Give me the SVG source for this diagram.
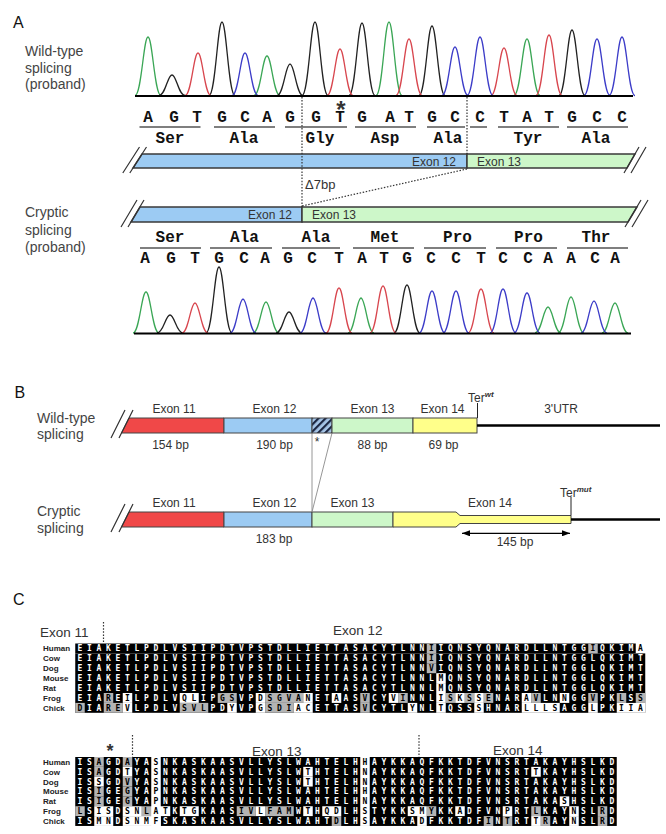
<svg xmlns="http://www.w3.org/2000/svg" width="666" height="834" viewBox="0 0 666 834">
<defs>
<style>
.t{font-family:"Liberation Sans",Arial,sans-serif;fill:#333}
.pl{font-size:16px;fill:#111}
.side{font-size:14px;fill:#444}
.ex{font-size:12px}
.seq{font-family:"Liberation Mono","Courier New",monospace;font-weight:bold;font-size:16px;fill:#111;text-anchor:middle}
.bar{stroke:#3a3a3a;stroke-width:1.5}
.bb{stroke:#444;stroke-width:1}
.blue{fill:#9ccbf3}
.green{fill:#cdf7c9}
.red{fill:#f04848}
.yel{fill:#ffff8a}
.dot{fill:none;stroke:#333;stroke-width:1.2;stroke-dasharray:1.5 1.6}
.ul{fill:none;stroke:#555;stroke-width:1.6}
.pk{fill:none;stroke-width:1.3;stroke-linejoin:round}
.sl{stroke:#333;stroke-width:1.2}
.k{fill:#000}
.g{fill:#b4b4b4}
.w{fill:#fff}
.aln{font-family:"DejaVu Sans Mono",monospace;font-weight:bold;font-size:8px;letter-spacing:4.684px}
.sp{font-family:"Liberation Sans",Arial,sans-serif;font-weight:bold;font-size:8px;fill:#222}
</style>
<pattern id="hatch" width="5" height="5" patternUnits="userSpaceOnUse" patternTransform="rotate(45)"><rect width="5" height="5" fill="#a8c8ea"/><rect width="2.2" height="5" fill="#1a2540"/></pattern>
<marker id="ah" viewBox="0 0 8 6" refX="8" refY="3" markerWidth="8" markerHeight="6" markerUnits="userSpaceOnUse" orient="auto-start-reverse"><path d="M0,0 L8,3 L0,6 Z" fill="#000"/></marker>
</defs>
<rect width="666" height="834" fill="#fff"/>

<!-- Panel A -->
<g id="panelA">
<text class="t pl" x="13" y="28.3">A</text>
<g id="label-wt-proband"><text class="t side" x="25" y="56">Wild-type</text><text class="t side" x="25" y="72.7">splicing</text><text class="t side" x="25" y="89.4">(proband)</text></g>
<g id="label-cr-proband"><text class="t side" x="25" y="217">Cryptic</text><text class="t side" x="25" y="234.5">splicing</text><text class="t side" x="25" y="252">(proband)</text></g>

<g id="chromatogram-wt">
<path class="pk" stroke="#3aa655" d="M135 95.5 C141.5 95.5 143.5 37 148 37 S154.5 95.5 161 95.5 M254 95.5 C260.5 95.5 262.5 56 267 56 S273.5 95.5 280 95.5 M376 95.5 C382.5 95.5 384.5 22 389 22 S395.5 95.5 402 95.5 M514 95.5 C520.5 95.5 522.5 39 527 39 S533.5 95.5 540 95.5"/>
<path class="pk" stroke="#222" d="M159 95.5 C165.5 95.5 167.5 75 172 75 S178.5 95.5 185 95.5 M209 95.5 C215.5 95.5 217.5 22 222 22 S228.5 95.5 235 95.5 M277 95.5 C283.5 95.5 285.5 64 290 64 S296.5 95.5 303 95.5 M302 95.5 C308.5 95.5 310.5 22 315 22 S321.5 95.5 328 95.5 M349 95.5 C355.5 95.5 357.5 23 362 23 S368.5 95.5 375 95.5 M419 95.5 C425.5 95.5 427.5 26 432 26 S438.5 95.5 445 95.5 M559 95.5 C565.5 95.5 567.5 30 572 30 S578.5 95.5 585 95.5"/>
<path class="pk" stroke="#d8464e" d="M185 95.5 C191.5 95.5 193.5 53 198 53 S204.5 95.5 211 95.5 M327 95.5 C333.5 95.5 335.5 49 340 49 S346.5 95.5 353 95.5 M396 95.5 C402.5 95.5 404.5 39 409 39 S415.5 95.5 422 95.5 M491 95.5 C497.5 95.5 499.5 48 504 48 S510.5 95.5 517 95.5 M536 95.5 C542.5 95.5 544.5 35 549 35 S555.5 95.5 562 95.5"/>
<path class="pk" stroke="#3c3cc8" d="M232 95.5 C238.5 95.5 240.5 53 245 53 S251.5 95.5 258 95.5 M442 95.5 C448.5 95.5 450.5 47 455 47 S461.5 95.5 468 95.5 M467 95.5 C473.5 95.5 475.5 37 480 37 S486.5 95.5 493 95.5 M584 95.5 C590.5 95.5 592.5 39 597 39 S603.5 95.5 610 95.5 M609 95.5 C615.5 95.5 617.5 37 622 37 S628.5 95.5 635 95.5"/>
<line x1="135" y1="96" x2="633" y2="96" stroke="#000" stroke-width="2"/>
</g>

<g id="sequence-wt">
<text class="t" x="341" y="117.5" font-size="24" font-weight="bold" fill="#111" text-anchor="middle">*</text>
<text class="seq" x="148 174 197 222 245 267 290 316 340 362 390 409 432 455 480 504 527 549 572 597 622" y="121.7">AGTGCAGGTGATGCCTATGCC</text>
<path class="ul" d="M139.5 127H200.5 M214 127H275 M285 127H347 M355 127H416 M427 127H465 M470 127H487 M498 127H559 M567 127H628"/>
<text class="seq" x="170" y="143">Ser</text>
<text class="seq" x="244" y="143">Ala</text>
<text class="seq" x="320" y="143">Gly</text>
<text class="seq" x="385" y="143">Asp</text>
<text class="seq" x="448" y="143">Ala</text>
<text class="seq" x="528" y="143">Tyr</text>
<text class="seq" x="596" y="143">Ala</text>
</g>

<g id="wt-exon12"><polygon class="bar blue" points="142,154 467,154 467,168 133,168"/><text class="t ex" x="456" y="165.5" text-anchor="end">Exon 12</text></g>
<g id="wt-exon13"><polygon class="bar green" points="467,154 635,154 627,168 467,168"/><text class="t ex" x="477" y="165.5">Exon 13</text></g>
<path class="sl" d="M146.5 147 L129.8 173 M139.5 147 L122.8 173 M639 147 L624 173 M646 147 L631 173"/>

<g id="cr-exon12"><polygon class="bar blue" points="140,207 302,207 302,222 131,222"/><text class="t ex" x="292" y="219" text-anchor="end">Exon 12</text></g>
<g id="cr-exon13"><polygon class="bar green" points="302,207 637,207 628,222 302,222"/><text class="t ex" x="312" y="219">Exon 13</text></g>
<path class="sl" d="M144 200 L128 227 M137 200 L121 227 M641 200 L625 227 M648 200 L632 227"/>

<g id="connectorsA">
<path class="dot" d="M302 97 V207 M467 97 V154 M467 169 L302 206"/>
<text class="t" x="305" y="189" font-size="13">Δ7bp</text>
</g>

<g id="sequence-cr">
<text class="seq" x="170" y="241.7">Ser</text>
<text class="seq" x="244.5" y="241.7">Ala</text>
<text class="seq" x="316" y="241.7">Ala</text>
<text class="seq" x="385" y="241.7">Met</text>
<text class="seq" x="457.5" y="241.7">Pro</text>
<text class="seq" x="528.5" y="241.7">Pro</text>
<text class="seq" x="596" y="241.7">Thr</text>
<path class="ul" d="M140 248H201 M210 248H272 M282 248H340 M353 248H414 M424 248H486 M496 248H557 M567 248H628"/>
<text class="seq" x="145 171 195 219 244 265 288 312 339 362 384 407 431 456 481 503 528 548 571 595 615" y="263">AGTGCAGCTATGCCTCCAACA</text>
</g>

<g id="chromatogram-cr">
<path class="pk" stroke="#3aa655" d="M133 333 C139.5 333 141.5 292 146 292 S152.5 333 159 333 M253 333 C259.5 333 261.5 302 266 302 S272.5 333 279 333 M348 333 C354.5 333 356.5 298 361 298 S367.5 333 374 333 M535 333 C541.5 333 543.5 307 548 307 S554.5 333 561 333 M558 333 C564.5 333 566.5 297 571 297 S577.5 333 584 333 M602 333 C608.5 333 610.5 303 615 303 S621.5 333 628 333"/>
<path class="pk" stroke="#222" d="M157 333 C163.5 333 165.5 315 170 315 S176.5 333 183 333 M206 333 C212.5 333 214.5 267 219 267 S225.5 333 232 333 M276 333 C282.5 333 284.5 312 289 312 S295.5 333 302 333 M394 333 C400.5 333 402.5 285 407 285 S413.5 333 420 333"/>
<path class="pk" stroke="#d8464e" d="M182 333 C188.5 333 190.5 303 195 303 S201.5 333 208 333 M326 333 C332.5 333 334.5 288 339 288 S345.5 333 352 333 M370 333 C376.5 333 378.5 286 383 286 S389.5 333 396 333 M468 333 C474.5 333 476.5 289 481 289 S487.5 333 494 333"/>
<path class="pk" stroke="#3c3cc8" d="M230 333 C236.5 333 238.5 299 243 299 S249.5 333 256 333 M300 333 C306.5 333 308.5 298 313 298 S319.5 333 326 333 M419 333 C425.5 333 427.5 291 432 291 S438.5 333 445 333 M443 333 C449.5 333 451.5 291 456 291 S462.5 333 469 333 M490 333 C496.5 333 498.5 289 503 289 S509.5 333 516 333 M514 333 C520.5 333 522.5 293 527 293 S533.5 333 540 333 M581 333 C587.5 333 589.5 301 594 301 S600.5 333 607 333"/>
<line x1="134" y1="333.5" x2="631" y2="333.5" stroke="#000" stroke-width="2"/>
</g>
</g>

<!-- Panel B -->
<g id="panelB">
<text class="t pl" x="14.5" y="398.3">B</text>
<g id="label-wt"><text class="t side" x="37" y="422.5">Wild-type</text><text class="t side" x="37" y="439">splicing</text></g>
<g id="label-cr"><text class="t side" x="37" y="516">Cryptic</text><text class="t side" x="37" y="533">splicing</text></g>

<g id="b-wt-exon11"><polygon class="bb red" points="129,418 224,418 224,433 121.5,433"/><text class="t ex" x="174" y="413" text-anchor="middle">Exon 11</text><text class="t ex" x="170.5" y="449" text-anchor="middle">154 bp</text></g>
<g id="b-wt-exon12"><rect class="bb blue" x="224" y="418" width="88" height="15"/><text class="t ex" x="274.5" y="413" text-anchor="middle">Exon 12</text><text class="t ex" x="274.5" y="449" text-anchor="middle">190 bp</text></g>
<g id="b-wt-deleted"><rect class="bb" x="312" y="418" width="20" height="15" fill="url(#hatch)"/><text class="t" x="317" y="446" font-size="12" text-anchor="middle">*</text></g>
<g id="b-wt-exon13"><rect class="bb green" x="332" y="418" width="81" height="15"/><text class="t ex" x="372.5" y="413" text-anchor="middle">Exon 13</text><text class="t ex" x="372.5" y="449" text-anchor="middle">88 bp</text></g>
<g id="b-wt-exon14"><rect class="bb yel" x="413" y="418" width="64" height="15"/><text class="t ex" x="442.5" y="413" text-anchor="middle">Exon 14</text><text class="t ex" x="443.5" y="449" text-anchor="middle">69 bp</text></g>
<g id="b-wt-utr"><line x1="477" y1="425.5" x2="660" y2="425.5" stroke="#000" stroke-width="2.5"/><text class="t ex" x="561" y="413" text-anchor="middle">3'UTR</text></g>
<g id="b-wt-ter"><line x1="477.5" y1="403" x2="477.5" y2="418" stroke="#222" stroke-width="1"/><text class="t ex" x="468" y="401.7">Ter<tspan font-size="8" font-weight="bold" font-style="italic" dy="-5">wt</tspan></text></g>
<path class="sl" d="M133 410 L119 438 M125 410 L111 438"/>

<g id="b-cr-exon11"><polygon class="bb red" points="129,512 224,512 224,527 121.5,527"/><text class="t ex" x="174" y="506.7" text-anchor="middle">Exon 11</text></g>
<g id="b-cr-exon12"><rect class="bb blue" x="224" y="512" width="88" height="15"/><text class="t ex" x="274.5" y="506.7" text-anchor="middle">Exon 12</text><text class="t ex" x="274" y="542.5" text-anchor="middle">183 bp</text></g>
<g id="b-cr-exon13"><rect class="bb green" x="312" y="512" width="81" height="15"/><text class="t ex" x="352.5" y="506.7" text-anchor="middle">Exon 13</text></g>
<g id="b-cr-exon14"><polygon class="bb yel" points="393,512 456,512 460,515.5 571,515.5 571,523.5 460,523.5 456,527 393,527"/><text class="t ex" x="490" y="506.7" text-anchor="middle">Exon 14</text></g>
<g id="b-cr-utr"><line x1="571" y1="519.5" x2="660" y2="519.5" stroke="#000" stroke-width="2.5"/></g>
<g id="b-cr-ter"><line x1="571" y1="497" x2="571" y2="515.5" stroke="#222" stroke-width="1"/><text class="t ex" x="560" y="496.7">Ter<tspan font-size="8" font-weight="bold" font-style="italic" dy="-5">mut</tspan></text></g>
<path class="sl" d="M133 504 L119 532 M125 504 L111 532"/>

<g id="connectorsB">
<path d="M312 433 V512 M332 433 L312 512" stroke="#8a8a8a" stroke-width="0.9" fill="none"/>
<line x1="462" y1="533.3" x2="570" y2="533.3" stroke="#000" stroke-width="1.3" marker-start="url(#ah)" marker-end="url(#ah)"/>
<text class="t ex" x="515" y="546" text-anchor="middle">145 bp</text>
</g>
</g>

<!-- Panel C -->
<g id="panelC">
<text class="t pl" x="13" y="605">C</text>
<text class="t" x="40" y="636.5" font-size="13.5">Exon 11</text>
<text class="t" x="333" y="635" font-size="13.5">Exon 12</text>
<text class="t" x="252" y="755.5" font-size="13.5">Exon 13</text>
<text class="t" x="493" y="755" font-size="13.5">Exon 14</text>
<text class="t" x="110" y="757" font-size="18" font-weight="bold" fill="#111" text-anchor="middle">*</text>
<g id="connectorsC"><path class="dot" d="M103.5 622 V643.5 M132.5 735 V757 M419 735 V757"/></g>

<g id="species1">
<text class="sp" x="43" y="651.3">Human</text>
<text class="sp" x="43" y="661.2">Cow</text>
<text class="sp" x="43" y="671.1">Dog</text>
<text class="sp" x="43" y="681">Mouse</text>
<text class="sp" x="43" y="690.9">Rat</text>
<text class="sp" x="43" y="700.8">Frog</text>
<text class="sp" x="43" y="710.7">Chick</text>
</g>
<g id="block1-cells" transform="translate(75.25 643.5) scale(9.5 9.9)">
<rect class="k" x="0" y="0" width="59" height="1"/>
<rect class="k" x="0" y="1" width="60" height="6"/>
<rect class="g" x="37" y="0" width="1" height="1"/><rect class="g" x="54" y="0" width="1" height="1"/>
<rect class="g" x="37" y="1" width="1" height="1"/>
<rect class="g" x="37" y="2" width="1" height="1"/>
<rect class="w" x="38" y="3" width="1" height="1"/>
<rect class="w" x="38" y="4" width="1" height="1"/>
<rect class="g" x="3" y="5" width="1" height="1"/><rect class="g" x="15" y="5" width="2" height="1"/><rect class="g" x="20" y="5" width="4" height="1"/><rect class="g" x="30" y="5" width="1" height="1"/><rect class="g" x="34" y="5" width="1" height="1"/><rect class="g" x="39" y="5" width="1" height="1"/><rect class="g" x="41" y="5" width="1" height="1"/><rect class="g" x="43" y="5" width="1" height="1"/><rect class="g" x="48" y="5" width="1" height="1"/><rect class="g" x="54" y="5" width="1" height="1"/><rect class="g" x="57" y="5" width="1" height="1"/><rect class="g" x="59" y="5" width="1" height="1"/>
<rect class="w" x="5" y="5" width="1" height="1"/><rect class="w" x="11" y="5" width="2" height="1"/><rect class="w" x="19" y="5" width="1" height="1"/><rect class="w" x="24" y="5" width="1" height="1"/><rect class="w" x="27" y="5" width="1" height="1"/><rect class="w" x="33" y="5" width="1" height="1"/><rect class="w" x="38" y="5" width="1" height="1"/><rect class="w" x="40" y="5" width="1" height="1"/><rect class="w" x="42" y="5" width="1" height="1"/><rect class="w" x="47" y="5" width="1" height="1"/><rect class="w" x="51" y="5" width="1" height="1"/>
<rect class="g" x="0" y="6" width="1" height="1"/><rect class="g" x="3" y="6" width="2" height="1"/><rect class="g" x="11" y="6" width="3" height="1"/><rect class="g" x="20" y="6" width="3" height="1"/><rect class="g" x="30" y="6" width="1" height="1"/>
<rect class="w" x="5" y="6" width="1" height="1"/><rect class="w" x="16" y="6" width="1" height="1"/><rect class="w" x="19" y="6" width="1" height="1"/><rect class="w" x="23" y="6" width="2" height="1"/><rect class="w" x="35" y="6" width="1" height="1"/><rect class="w" x="38" y="6" width="1" height="1"/><rect class="w" x="42" y="6" width="1" height="1"/><rect class="w" x="47" y="6" width="4" height="1"/><rect class="w" x="54" y="6" width="1" height="1"/><rect class="w" x="57" y="6" width="3" height="1"/>
</g>
<g id="block1-text" class="aln">
<text x="77.59" y="651.35" fill="#000">EIAKETLPDLVSIIPDTVPSTDLLIETTASACYTLNNIIQNSYQNARDLLNTGGIQKIMA</text>
<text x="77.59" y="661.25" fill="#000">EIAKETLPDLVSIIPDTVPSTDLLIETTASACYTLNNIIQNSYQNARDLLNTGGLQKIMT</text>
<text x="77.59" y="671.15" fill="#000">EIAKETLPDLVSIIPDTVPSTDLLIETTASACYTLNNVIQNSYQNARDLLNTGGLQKIMT</text>
<text x="77.59" y="681.05" fill="#000">EIAKETLPDLVSIIPDTVPSTDLLIETTASACYTLNNLMQNSYQNARDLLNTGGLQKIMT</text>
<text x="77.59" y="690.95" fill="#000">EIAKETLPDLVSIIPDTVPSTDLLIETTASACYTLNNLMQNSYQNARDLLNTGGLQKIMT</text>
<text x="77.59" y="700.85" fill="#000">EIAREILPDLVQLIPGSVPDSGVANETAASVCYVINNLISKSSENARAVLNNGGVPKLSS</text>
<text x="77.59" y="710.75" fill="#000">DIAREVLPDLVSVLPDYVPGSDIACETTASVCYTLYNLTQSSSHNARLLLSAGGLPKIIA</text>
<text x="77.59" y="651.35" fill="#fff">EIAKETLPDLVSIIPDTVPSTDLLIETTASACYTLNN&#160;IQNSYQNARDLLNTGG&#160;QKIM&#160;</text>
<text x="77.59" y="661.25" fill="#fff">EIAKETLPDLVSIIPDTVPSTDLLIETTASACYTLNN&#160;IQNSYQNARDLLNTGGLQKIMT</text>
<text x="77.59" y="671.15" fill="#fff">EIAKETLPDLVSIIPDTVPSTDLLIETTASACYTLNN&#160;IQNSYQNARDLLNTGGLQKIMT</text>
<text x="77.59" y="681.05" fill="#fff">EIAKETLPDLVSIIPDTVPSTDLLIETTASACYTLNNL&#160;QNSYQNARDLLNTGGLQKIMT</text>
<text x="77.59" y="690.95" fill="#fff">EIAKETLPDLVSIIPDTVPSTDLLIETTASACYTLNNL&#160;QNSYQNARDLLNTGGLQKIMT</text>
<text x="77.59" y="700.85" fill="#fff">EIA&#160;E&#160;LPDLV&#160;&#160;IP&#160;&#160;VP&#160;&#160;&#160;&#160;&#160;&#160;ET&#160;AS&#160;CY&#160;&#160;NNL&#160;&#160;&#160;&#160;&#160;&#160;NAR&#160;&#160;LN&#160;GG&#160;PK&#160;S&#160;</text>
<text x="77.59" y="710.75" fill="#fff">&#160;IA&#160;&#160;&#160;LPDLV&#160;&#160;&#160;PD&#160;VP&#160;&#160;&#160;&#160;&#160;&#160;ETTAS&#160;CYTL&#160;NL&#160;QSS&#160;HNAR&#160;&#160;&#160;&#160;AGG&#160;PK&#160;&#160;&#160;</text>
</g>

<g id="species2">
<text class="sp" x="43" y="764.8">Human</text>
<text class="sp" x="43" y="774.7">Cow</text>
<text class="sp" x="43" y="784.5">Dog</text>
<text class="sp" x="43" y="794.4">Mouse</text>
<text class="sp" x="43" y="804.2">Rat</text>
<text class="sp" x="43" y="814.1">Frog</text>
<text class="sp" x="43" y="823.9">Chick</text>
</g>
<g id="block2-cells" transform="translate(75.25 757) scale(9.5 9.85)">
<rect class="k" x="0" y="0" width="57" height="7"/>
<rect class="w" x="8" y="0" width="1" height="7"/><rect class="w" x="30" y="0" width="1" height="7"/>
<rect class="g" x="2" y="0" width="1" height="1"/><rect class="g" x="5" y="0" width="1" height="1"/>
<rect class="g" x="2" y="1" width="1" height="1"/><rect class="w" x="5" y="1" width="1" height="1"/><rect class="w" x="24" y="1" width="1" height="1"/><rect class="w" x="48" y="1" width="1" height="1"/>
<rect class="w" x="2" y="2" width="1" height="1"/><rect class="g" x="5" y="2" width="1" height="1"/><rect class="w" x="24" y="2" width="1" height="1"/>
<rect class="g" x="2" y="3" width="1" height="1"/><rect class="g" x="5" y="3" width="1" height="1"/>
<rect class="g" x="2" y="4" width="1" height="1"/><rect class="g" x="5" y="4" width="1" height="1"/><rect class="w" x="51" y="4" width="1" height="1"/>
<rect class="g" x="0" y="5" width="1" height="1"/><rect class="g" x="7" y="5" width="1" height="1"/><rect class="g" x="17" y="5" width="2" height="1"/><rect class="g" x="20" y="5" width="3" height="1"/><rect class="g" x="37" y="5" width="1" height="1"/><rect class="g" x="48" y="5" width="1" height="1"/><rect class="g" x="55" y="5" width="1" height="1"/>
<rect class="w" x="2" y="5" width="2" height="1"/><rect class="w" x="5" y="5" width="2" height="1"/><rect class="w" x="8" y="5" width="2" height="1"/><rect class="w" x="11" y="5" width="2" height="1"/><rect class="w" x="19" y="5" width="1" height="1"/><rect class="w" x="24" y="5" width="1" height="1"/><rect class="w" x="26" y="5" width="2" height="1"/><rect class="w" x="35" y="5" width="2" height="1"/><rect class="w" x="40" y="5" width="1" height="1"/><rect class="w" x="45" y="5" width="1" height="1"/><rect class="w" x="52" y="5" width="1" height="1"/>
<rect class="g" x="27" y="6" width="1" height="1"/><rect class="g" x="43" y="6" width="1" height="1"/><rect class="g" x="45" y="6" width="1" height="1"/><rect class="g" x="49" y="6" width="1" height="1"/><rect class="g" x="55" y="6" width="1" height="1"/>
<rect class="w" x="2" y="6" width="2" height="1"/><rect class="w" x="5" y="6" width="4" height="1"/><rect class="w" x="36" y="6" width="1" height="1"/><rect class="w" x="48" y="6" width="1" height="1"/><rect class="w" x="52" y="6" width="1" height="1"/>
</g>
<g id="block2-text" class="aln">
<text x="77.59" y="764.8" fill="#000">ISAGDAYASNKASKAASVLLYSLWAHTELHHAYKKAQFKKTDFVNSRTAKAYHSLKD</text>
<text x="77.59" y="774.7" fill="#000">ISAGDTYASNKASKAASVLLYSLWTHTELHNAYKKAQFKKTDFVNSRTTKAYHSLKD</text>
<text x="77.59" y="784.5" fill="#000">ISSGDVYASNKASKAASVLLYSLWTHTELHNAYKKAQFKKTDFVNSRTAKAYHSLKD</text>
<text x="77.59" y="794.4" fill="#000">ISIGEGYAPNKASKAASVLLYSLWAHTELHHAYKKAQFKKTDFVNSRTAKAYHSLKD</text>
<text x="77.59" y="804.2" fill="#000">ISIGEGYAPNKASKAASVLLYSLWAHTELHNAYKKAQFKKTDFVNSRTAKASHSLKD</text>
<text x="77.59" y="814.1" fill="#000">LSISDSNLATKTGKAASIVLFAMWTHQDLHSTYKKSMYKKADFVNPRTLKAYNSLRD</text>
<text x="77.59" y="823.9" fill="#000">ISMNDSNMFSKASKAASVLLYSLWAHTDLHSAYKKADFKKTDFINTRTTRAYNSLRD</text>
<text x="77.59" y="764.8" fill="#fff">IS&#160;GD&#160;YA&#160;NKASKAASVLLYSLWAHTELH&#160;AYKKAQFKKTDFVNSRTAKAYHSLKD</text>
<text x="77.59" y="774.7" fill="#fff">IS&#160;GD&#160;YA&#160;NKASKAASVLLYSLW&#160;HTELH&#160;AYKKAQFKKTDFVNSRT&#160;KAYHSLKD</text>
<text x="77.59" y="784.5" fill="#fff">IS&#160;GD&#160;YA&#160;NKASKAASVLLYSLW&#160;HTELH&#160;AYKKAQFKKTDFVNSRTAKAYHSLKD</text>
<text x="77.59" y="794.4" fill="#fff">IS&#160;GE&#160;YA&#160;NKASKAASVLLYSLWAHTELH&#160;AYKKAQFKKTDFVNSRTAKAYHSLKD</text>
<text x="77.59" y="804.2" fill="#fff">IS&#160;GE&#160;YA&#160;NKASKAASVLLYSLWAHTELH&#160;AYKKAQFKKTDFVNSRTAKA&#160;HSLKD</text>
<text x="77.59" y="814.1" fill="#fff">&#160;S&#160;&#160;D&#160;&#160;&#160;&#160;&#160;K&#160;&#160;KAAS&#160;&#160;&#160;&#160;&#160;&#160;W&#160;H&#160;&#160;LH&#160;TYKK&#160;&#160;&#160;KK&#160;DFVN&#160;RT&#160;KAY&#160;SL&#160;D</text>
<text x="77.59" y="823.9" fill="#fff">IS&#160;&#160;D&#160;&#160;&#160;&#160;SKASKAASVLLYSLWAHT&#160;LH&#160;AYKKA&#160;FKKTDF&#160;N&#160;RT&#160;&#160;AY&#160;SL&#160;D</text>
</g>
</g>
</svg>
